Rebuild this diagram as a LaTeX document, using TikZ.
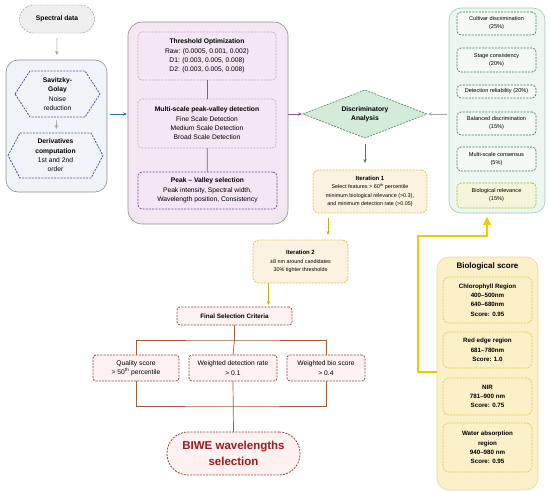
\documentclass[tikz,border=0pt]{standalone}
\usepackage{fontspec}
\setmainfont{Liberation Sans}
\usetikzlibrary{arrows.meta,shapes.geometric}

\definecolor{specfill}{HTML}{EFEFEF}
\definecolor{specline}{HTML}{8C8C8C}
\definecolor{groupline}{HTML}{8E8E8E}
\definecolor{leftfill}{HTML}{F0F3F7}
\definecolor{hexline}{HTML}{3E5F91}
\definecolor{arrowgray}{HTML}{A6A6A6}
\definecolor{bluearrow}{HTML}{2F6EA8}
\definecolor{midfill}{HTML}{F4E6F2}
\definecolor{subline}{HTML}{C9A9CC}
\definecolor{peakline}{HTML}{7D4E9C}
\definecolor{midlink}{HTML}{6E6E6E}
\definecolor{purplearrow}{HTML}{8E4C9E}
\definecolor{discfill}{HTML}{D3EBD8}
\definecolor{discline}{HTML}{5E8F6E}
\definecolor{greenarrow}{HTML}{3F7F6E}
\definecolor{rightfill}{HTML}{EEF6F1}
\definecolor{rightline}{HTML}{9CCBB6}
\definecolor{weightline}{HTML}{3C7D52}
\definecolor{weightfill}{HTML}{F4F9F5}
\definecolor{bioline}{HTML}{A9B22C}
\definecolor{biorelfill}{HTML}{F5F5DA}
\definecolor{iterfill}{HTML}{FCF2E2}
\definecolor{iterline}{HTML}{D6C35C}
\definecolor{iterarrow}{HTML}{C2AE10}
\definecolor{bioarrow}{HTML}{E8CF00}
\definecolor{scorefill}{HTML}{FBF0C8}
\definecolor{scoreline}{HTML}{E9D993}
\definecolor{scoreinner}{HTML}{E2CB4A}
\definecolor{critline}{HTML}{8A4A3C}
\definecolor{critfill}{HTML}{FDF1F1}
\definecolor{treeline}{HTML}{A35A3A}
\definecolor{biwered}{HTML}{9E1B1B}

\tikzset{
  finedash/.style={dash pattern=on 2pt off 1.2pt},
  txt/.style={font=\fontsize{6.7}{9.3}\selectfont},
  group/.style={draw=groupline, rounded corners=12pt, line width=0.6pt},
  stagebox/.style={txt, finedash, line width=0.7pt, rounded corners=4pt},
  weightbox/.style={font=\fontsize{5.6}{8}\selectfont, draw=weightline, fill=weightfill,
    finedash, line width=0.7pt, rounded corners=4pt, minimum width=79pt},
  iterbox/.style={font=\fontsize{5.4}{8.4}\selectfont, draw=iterline, fill=iterfill,
    finedash, line width=0.8pt, rounded corners=6pt},
  scorebox/.style={font=\fontsize{6.2}{9.3}\selectfont\bfseries, draw=scoreinner, fill=scorefill,
    finedash, line width=0.7pt, rounded corners=6pt, minimum width=89pt},
  critbox/.style={txt, draw=critline, fill=critfill, finedash, line width=0.8pt, rounded corners=3pt},
  link/.style={line width=0.7pt}
}

\begin{document}
\begin{tikzpicture}[x=1pt,y=-1pt, >={Stealth[length=4pt,width=3.4pt]},
  every node/.style={align=center, inner sep=1pt, outer sep=0pt}]
   \useasboundingbox (0,0) rectangle (550,491);

   %% Vorverarbeitung
   \node[txt, font=\fontsize{6.7}{9.3}\selectfont\bfseries, draw=specline, fill=specfill, finedash,
     rounded corners=14pt, minimum width=75pt, minimum height=28pt] (spec) at (57,19) {Spectral data};
   \node[group, fill=leftfill, minimum width=101pt, minimum height=132pt] (prep) at (56.5,126) {};
   \node[txt, minimum width=85pt, minimum height=46pt] (sg) at (57.5,94)
     {\textbf{Savitzky-}\\\textbf{Golay}\\Noise\\reduction};
   \node[txt, minimum width=95pt, minimum height=45pt] (deriv) at (55.5,155.5)
     {\textbf{Derivatives}\\\textbf{computation}\\1st and 2nd\\order};
   \draw[hexline, finedash, line width=0.8pt] (sg.west) -- ([xshift=15pt]sg.north west)
     -- ([xshift=-15pt]sg.north east) -- (sg.east) -- ([xshift=-15pt]sg.south east)
     -- ([xshift=15pt]sg.south west) -- cycle;
   \draw[hexline, finedash, line width=0.8pt] (deriv.west) -- ([xshift=12pt]deriv.north west)
     -- ([xshift=-12pt]deriv.north east) -- (deriv.east) -- ([xshift=-12pt]deriv.south east)
     -- ([xshift=12pt]deriv.south west) -- cycle;

   %% Peak-Valley Detektion
   \node[group, fill=midfill, rounded corners=14pt, minimum width=160pt, minimum height=202pt] (detect) at (208,123) {};
   \node[stagebox, draw=subline, minimum width=138pt, minimum height=48pt] (thresh) at (207,56)
     {\textbf{Threshold Optimization}\\Raw: (0.0005, 0.001, 0.002)\\D1: (0.003, 0.005, 0.008)\\D2: (0.003, 0.005, 0.008)};
   \node[stagebox, draw=subline, minimum width=138pt, minimum height=49pt] (multi) at (207,123.5)
     {\textbf{Multi-scale peak-valley detection}\\Fine Scale Detection\\Medium Scale Detection\\Broad Scale Detection};
   \node[stagebox, draw=peakline, line width=0.8pt, minimum width=139pt, minimum height=37pt] (peak) at (207.5,190.5)
     {\textbf{Peak -- Valley selection}\\Peak intensity, Spectral width,\\Wavelength position, Consistency};

   %% Diskriminanzanalyse
   \node[diamond, aspect=2.6, draw=discline, fill=discfill, finedash, line width=0.7pt, inner sep=0pt,
     minimum width=124pt, minimum height=48pt, font=\fontsize{6.7}{9.3}\selectfont\bfseries] (disc) at (365,114)
     {Discriminatory\\Analysis};

   %% Gewichtung
   \node[group, draw=rightline, fill=rightfill, minimum width=96pt, minimum height=205pt] (weights) at (497,110.5) {};
   \node[weightbox, minimum height=23pt] (cult) at (496.5,23.5) {Cultivar discrimination\\(25\%)};
   \node[weightbox, minimum height=24pt] (stage) at (496.5,60) {Stage consistency\\(20\%)};
   \node[weightbox, minimum height=13pt] (reli) at (496.5,91.5) {Detection reliability (20\%)};
   \node[weightbox, minimum height=23pt] (bal) at (496.5,123.5) {Balanced discrimination\\(15\%)};
   \node[weightbox, minimum height=24pt] (cons) at (496.5,159) {Multi-scale consensus\\(5\%)};
   \node[weightbox, draw=bioline, fill=biorelfill, minimum height=25pt] (biorel) at (496.5,195.5) {Biological relevance\\(15\%)};

   %% Iterationen
   \node[iterbox, minimum width=114pt, minimum height=43pt] (iter1) at (370,191.5)
     {{\fontsize{6}{8.4}\selectfont\bfseries Iteration 1}\\Select features > 60\textsuperscript{th} percentile\\minimum biological relevance (>0.3),\\and minimum detection rate (>0.05)};
   \node[iterbox, minimum width=95pt, minimum height=43pt] (iter2) at (300.5,261.5)
     {{\fontsize{6}{8.4}\selectfont\bfseries Iteration 2}\\±8 nm around candidates\\30\% tighter thresholds};

   %% Auswahlkriterien
   \node[critbox, font=\fontsize{6.3}{9}\selectfont\bfseries, minimum width=115pt, minimum height=18pt] (final) at (234.5,316) {Final Selection Criteria};
   \node[critbox, minimum width=86pt, minimum height=26pt] (qual) at (136,368) {Quality score\\> 50\textsuperscript{th} percentile};
   \node[critbox, minimum width=88pt, minimum height=26pt] (wdet) at (233,368) {Weighted detection rate\\> 0.1};
   \node[critbox, minimum width=78pt, minimum height=26pt] (wbio) at (326,368) {Weighted bio score\\> 0.4};
   \node[draw=critline, fill=critfill, finedash, line width=0.8pt, rounded corners=21pt,
     minimum width=133pt, minimum height=43pt, text=biwered,
     font=\fontsize{11.5}{15.5}\selectfont\bfseries] (biwe) at (233.5,453.5) {BIWE wavelengths\\selection};

   %% Biologischer Score
   \node[group, draw=scoreline, fill=scorefill, minimum width=101pt, minimum height=233pt] (bioscore) at (487.5,373.5) {};
   \node[font=\fontsize{8}{10}\selectfont\bfseries] (biotitle) at (487.5,266) {Biological score};
   \node[scorebox, minimum height=46pt] (chl) at (487.5,300) {Chlorophyll Region\\400--500nm\\640--680nm\\Score: 0.95};
   \node[scorebox, minimum height=36pt] (red) at (487.5,350) {Red edge region\\681--780nm\\Score: 1.0};
   \node[scorebox, minimum height=37pt] (nir) at (487.5,396.5) {NIR\\781--900 nm\\Score: 0.75};
   \node[scorebox, minimum height=49pt] (water) at (487.5,447.5) {Water absorption\\region\\940--980 nm\\Score: 0.95};

   \coordinate (split) at (234.5,340);
   \coordinate (join) at (233,406);
   \coordinate (bendlow) at (418,372);
   \coordinate (bendhigh) at (418,236);

   %% Verbindungen
   \draw[->, link, arrowgray, shorten <=5pt, shorten >=5pt] (spec) -- (prep);
   \draw[->, link, arrowgray, shorten <=3pt, shorten >=4pt] (sg) -- (deriv);
   \draw[->, link, bluearrow, shorten <=3pt, shorten >=1pt] (prep.east |- disc) -- (detect.west |- disc);
   \draw[midlink, link] (thresh) -- (multi);
   \draw[midlink, link] (multi) -- (peak);
   \draw[->, link, purplearrow, shorten >=1pt] (detect.east |- disc) -- (disc.west);
   \draw[->, link, arrowgray, shorten <=2pt, shorten >=1pt] (weights.west |- disc) -- (disc.east);
   \draw[->, link, line width=0.9pt, greenarrow, shorten <=6pt, shorten >=7pt] (disc.south) -- (disc.south |- iter1.north);
   \draw[->, link, line width=0.9pt, iterarrow, shorten <=5pt, shorten >=5pt] ([xshift=-42pt]iter1.south) -- ([xshift=-42pt]iter1.south |- iter2.north);
   \draw[->, link, line width=0.9pt, iterarrow, shorten >=2pt] ([xshift=-32pt]iter2.south) -- ([xshift=-32pt]iter2.south |- final.north);
   \draw[treeline, link] (final.south) -- (split);
   \draw[treeline, link] (qual.north) |- (split) -| (wbio.north);
   \draw[treeline, link] (split) -- (wdet.north);
   \draw[treeline, link] (qual.south) |- (join) -| (wbio.south);
   \draw[treeline, link] (wdet.south) -- (biwe.north);
   \draw[-{Triangle[length=8pt,width=8pt]}, bioarrow, line width=1.2pt, shorten >=4pt]
     (bioscore.west |- bendlow) -- (bendlow) -- (bendhigh) -| ([xshift=-10pt]weights.south);
  \end{tikzpicture}
\end{document}
